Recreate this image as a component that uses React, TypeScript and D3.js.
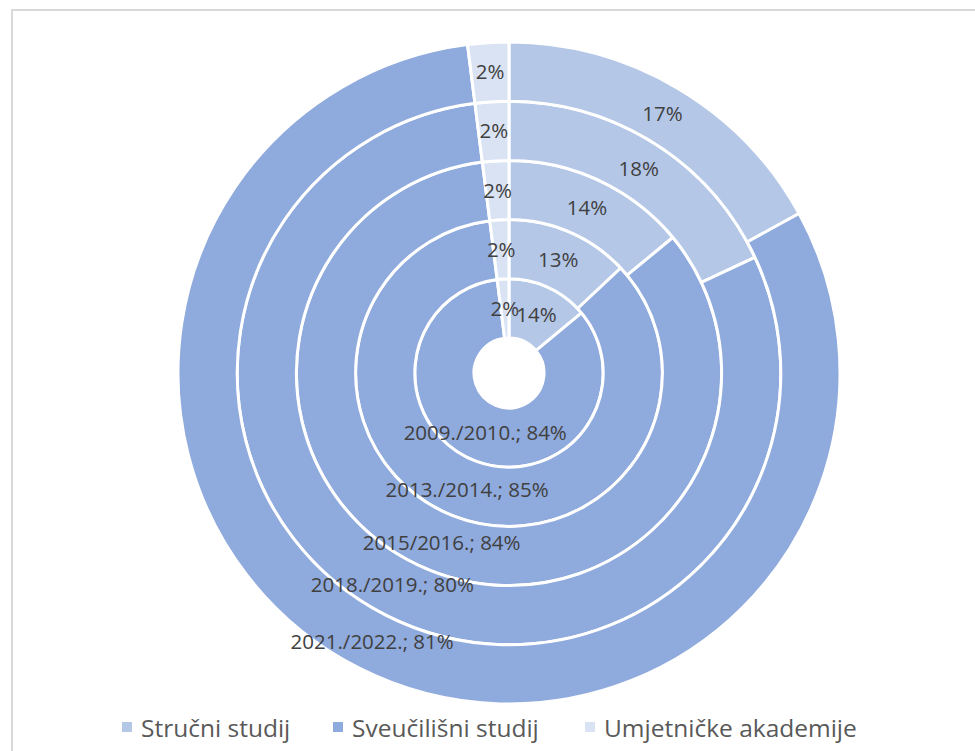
import React, { useEffect, useRef } from 'react';
import * as d3 from 'd3';

// rings from inside to outside
const years = ['2009./2010.', '2013./2014.', '2015/2016.', '2018./2019.', '2021./2022.'];
const seriesNames = ['Stručni studij', 'Sveučilišni studij', 'Umjetničke akademije'];
const strucni = [14, 13, 14, 18, 17];
const sveucilisni = [84, 85, 84, 80, 81];
const umjetnicke = [2, 2, 2, 2, 2];

const colors = ['#b4c7e7', '#8faadc', '#dae3f3'];

const App: React.FC = () => {
    const svgRef = useRef<SVGSVGElement>(null);

    useEffect(() => {
        const width = 975;
        const height = 751;
        const cx = 509;
        const cy = 373;
        const inner = 35;
        const outer = 331;

        const root = d3.select(svgRef.current);
        root.selectAll('*').remove();
        root.attr('width', width).attr('height', height);

        root.append('rect').attr('width', width).attr('height', height).attr('fill', '#ffffff');

        // chart frame
        root.append('rect')
            .attr('x', 12).attr('y', 10)
            .attr('width', width).attr('height', height)
            .attr('fill', 'none')
            .attr('stroke', '#d9d9d9')
            .attr('stroke-width', 2);

        const g = root.append('g').attr('transform', `translate(${cx},${cy})`);
        const slices = g.append('g');
        const labels = g.append('g');

        const ring = d3.scaleBand<number>()
            .domain(d3.range(years.length))
            .range([inner, outer])
            .paddingInner(0);

        const pie = d3.pie<number>().sort(null).value(d => d);

        years.forEach((year, i) => {
            const vals = [strucni[i], sveucilisni[i], umjetnicke[i]];
            const r0 = ring(i) || 0;
            const r1 = r0 + ring.bandwidth();
            const arc = d3.arc<d3.PieArcDatum<number>>().innerRadius(r0).outerRadius(r1);
            const arcs = pie(vals);

            slices.selectAll(`path.r${i}`)
                .data(arcs)
                .enter()
                .append('path')
                .attr('class', `r${i}`)
                .attr('d', arc)
                .attr('fill', (_, j) => colors[j])
                .attr('stroke', '#ffffff')
                .attr('stroke-width', 3);

            labels.selectAll(`text.r${i}`)
                .data(arcs)
                .enter()
                .append('text')
                .attr('class', `r${i}`)
                .attr('transform', d => `translate(${arc.centroid(d)})`)
                .attr('text-anchor', 'middle')
                .attr('dy', '0.35em')
                .style('font-family', '"Open Sans", sans-serif')
                .style('font-size', '20.5px')
                .style('fill', '#404040')
                .text((d, j) => j === 1 ? `${year}; ${d.data}%` : `${d.data}%`);
        });

        // legend
        const legend = root.append('g');
        const legendX = [122, 333, 585];
        seriesNames.forEach((name, j) => {
            legend.append('rect')
                .attr('x', legendX[j]).attr('y', 722)
                .attr('width', 10).attr('height', 10)
                .attr('fill', colors[j]);
            legend.append('text')
                .attr('x', legendX[j] + 19).attr('y', 737)
                .style('font-family', '"Open Sans", sans-serif')
                .style('font-size', '24.5px')
                .style('fill', '#595959')
                .text(name);
        });
    }, []);

    return <svg ref={svgRef} style={{ position: 'absolute', left: 0, top: 0, display: 'block' }}></svg>;
};

export default App;
